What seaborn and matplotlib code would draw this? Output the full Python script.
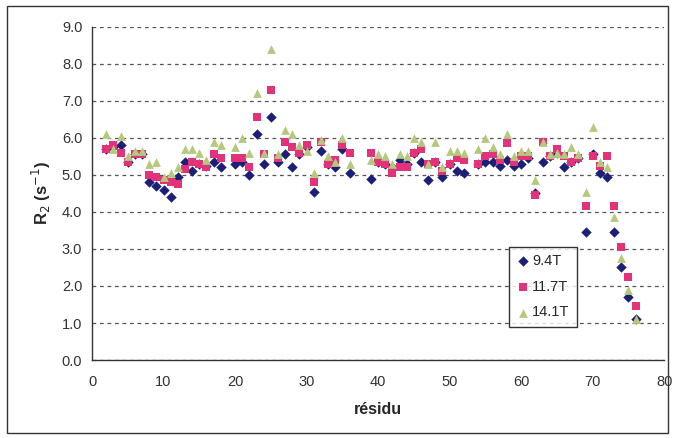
import numpy as np
import pandas as pd
import matplotlib.pyplot as plt
import seaborn as sns
from matplotlib.patches import Rectangle

# residue numbers (19, 37, 38, 53 have no data)
residues = [2, 3, 4, 5, 6, 7, 8, 9, 10, 11, 12, 13, 14, 15, 16, 17, 18,
            20, 21, 22, 23, 24, 25, 26, 27, 28, 29, 30, 31, 32, 33, 34, 35, 36,
            39, 40, 41, 42, 43, 44, 45, 46, 47, 48, 49, 50, 51, 52,
            54, 55, 56, 57, 58, 59, 60, 61, 62, 63, 64, 65, 66, 67, 68,
            69, 70, 71, 72, 73, 74, 75, 76]

r2_94 = [5.7, 5.75, 5.8, 5.35, 5.55, 5.55, 4.8, 4.7, 4.6, 4.4, 4.95, 5.35, 5.1, 5.3, 5.25, 5.35, 5.2,
         5.3, 5.35, 5.0, 6.1, 5.3, 6.55, 5.35, 5.55, 5.2, 5.55, 5.75, 4.55, 5.65, 5.3, 5.2, 5.7, 5.05,
         4.9, 5.35, 5.3, 5.2, 5.4, 5.3, 5.6, 5.35, 4.85, 5.35, 4.95, 5.3, 5.1, 5.05,
         5.3, 5.35, 5.35, 5.25, 5.4, 5.25, 5.3, 5.45, 4.5, 5.35, 5.5, 5.6, 5.2, 5.35, 5.45,
         3.45, 5.55, 5.05, 4.95, 3.45, 2.5, 1.7, 1.1]

r2_117 = [5.7, 5.8, 5.6, 5.35, 5.55, 5.55, 5.0, 4.95, 4.85, 4.8, 4.75, 5.15, 5.35, 5.3, 5.2, 5.55, 5.45,
          5.45, 5.45, 5.2, 6.55, 5.55, 7.3, 5.45, 5.9, 5.75, 5.6, 5.8, 4.8, 5.9, 5.3, 5.4, 5.8, 5.6,
          5.6, 5.35, 5.3, 5.05, 5.2, 5.2, 5.6, 5.7, 5.3, 5.35, 5.1, 5.3, 5.45, 5.4,
          5.3, 5.5, 5.55, 5.4, 5.85, 5.35, 5.5, 5.5, 4.45, 5.9, 5.5, 5.7, 5.5, 5.35, 5.45,
          4.15, 5.5, 5.25, 5.5, 4.15, 3.05, 2.25, 1.45]

r2_141 = [6.1, 5.7, 6.05, 5.5, 5.65, 5.65, 5.3, 5.35, 4.95, 5.05, 5.2, 5.7, 5.7, 5.6, 5.4, 5.9, 5.8,
          5.75, 6.0, 5.6, 7.2, 5.6, 8.4, 5.55, 6.2, 6.1, 5.8, 5.65, 5.05, 5.95, 5.5, 5.35, 6.0, 5.3,
          5.4, 5.55, 5.5, 5.3, 5.55, 5.5, 6.0, 5.9, 5.3, 5.9, 5.2, 5.65, 5.65, 5.6,
          5.7, 6.0, 5.75, 5.55, 6.1, 5.5, 5.65, 5.65, 4.85, 5.9, 5.55, 5.6, 5.55, 5.75, 5.55,
          4.55, 6.3, 5.35, 5.2, 3.85, 2.75, 1.9, 1.1]

fields = ["9.4T", "11.7T", "14.1T"]
colors = {"9.4T": "#1c1f78", "11.7T": "#e2337a", "14.1T": "#b4c97c"}
markers = {"9.4T": "D", "11.7T": "s", "14.1T": "^"}
sizes = {"9.4T": 28, "11.7T": 34, "14.1T": 40}

df = pd.concat([
    pd.DataFrame({"residu": residues, "R2": vals, "champ": f})
    for f, vals in zip(fields, [r2_94, r2_117, r2_141])
])

sns.set_style("white")
plt.rcParams["font.family"] = ["Liberation Sans", "DejaVu Sans"]

fig = plt.figure(figsize=(6.74, 4.38), dpi=100)
ax = fig.add_axes([0.1365, 0.178, 0.849, 0.761])

for f in fields:
    sub = df[df["champ"] == f]
    sns.scatterplot(data=sub, x="residu", y="R2", color=colors[f], marker=markers[f],
                    s=sizes[f], linewidth=0, label=f, ax=ax, zorder=3)

ax.set_xlim(0, 80)
ax.set_ylim(0, 9)
ax.set_xticks(np.arange(0, 81, 10))
ax.set_yticks(np.arange(0, 9.1, 1))
ax.set_yticklabels([f"{v:.1f}" for v in np.arange(0, 9.1, 1)])
ax.yaxis.grid(True, linestyle=(0, (3, 3)), color="#555555", linewidth=0.9)
ax.xaxis.grid(False)
for side in ["top", "right"]:
    ax.spines[side].set_visible(False)
for side in ["left", "bottom"]:
    ax.spines[side].set_color("#333333")
    ax.spines[side].set_linewidth(1.0)
ax.tick_params(axis="both", direction="inout", length=6, width=1, color="#333333",
               labelsize=10.5, labelcolor="#333333")
ax.tick_params(axis="x", pad=8)
ax.tick_params(axis="y", pad=4)

ax.set_xlabel("résidu", fontsize=11.5, fontweight="bold", labelpad=9)
ax.set_ylabel("R$_2$ (s$^{-1}$)", fontsize=12, fontweight="bold", labelpad=6)

leg = ax.legend(loc="upper left", bbox_to_anchor=(0.728, 0.34), frameon=True, fancybox=False,
                edgecolor="black", fontsize=10.5, handletextpad=0.1, borderpad=0.5,
                labelspacing=0.8, handlelength=1.0, borderaxespad=0)
leg.get_frame().set_linewidth(1.0)

fig.patches.append(Rectangle((0.011, 0.012), 0.98, 0.975, transform=fig.transFigure,
                             fill=False, edgecolor="#333333", linewidth=1.0))

plt.savefig("out.png", dpi=100)
